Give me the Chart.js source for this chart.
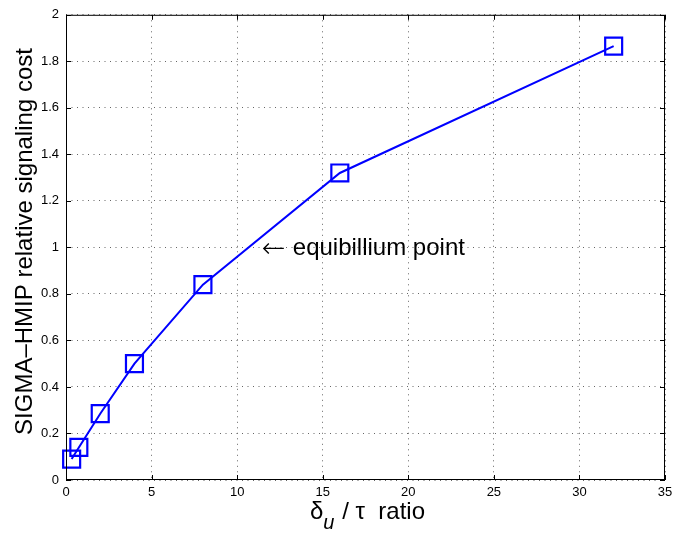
<!DOCTYPE html>
<html>
<head>
<meta charset="utf-8">
<script src="https://cdn.jsdelivr.net/npm/chart.js@4"></script>
<style>
  html, body { margin: 0; padding: 0; background: #fff; }
  #wrap { width: 694px; height: 533px; }
</style>
</head>
<body>
<div id="wrap"><canvas id="myChart" width="694" height="533"></canvas></div>
<script>
// data
const ratio = [0.33, 0.75, 2, 4, 8, 16, 32];
const cost = [0.09, 0.14, 0.285, 0.5, 0.84, 1.32, 1.865];
const xTicks = [0, 5, 10, 15, 20, 25, 30, 35];
const yTicks = [0, 0.2, 0.4, 0.6, 0.8, 1, 1.2, 1.4, 1.6, 1.8, 2];
const noteText = 'equibillium point';
const notePos = [11.5, 1.0];

const FONT = '"Liberation Sans", Arial, sans-serif';

// MATLAB-ish frame, inward ticks, titles and the annotation
const decor = {
  id: 'decor',
  afterDraw(chart) {
    const c = chart.ctx;
    const a = chart.chartArea;
    const xs = chart.scales.x, ys = chart.scales.y;
    c.save();
    c.strokeStyle = '#000';
    c.lineWidth = 1;
    c.strokeRect(a.left + 0.5, a.top + 0.5, a.right - a.left - 1, a.bottom - a.top - 1);
    c.beginPath();
    xTicks.forEach(v => {
      const px = Math.round(xs.getPixelForValue(v)) + 0.5;
      c.moveTo(px, a.bottom); c.lineTo(px, a.bottom - 5);
      c.moveTo(px, a.top); c.lineTo(px, a.top + 5);
    });
    yTicks.forEach(v => {
      const py = Math.round(ys.getPixelForValue(v)) + 0.5;
      c.moveTo(a.left, py); c.lineTo(a.left + 5, py);
      c.moveTo(a.right, py); c.lineTo(a.right - 5, py);
    });
    c.stroke();

    // annotation: arrow + text
    const nx = xs.getPixelForValue(notePos[0]);
    const ny = ys.getPixelForValue(notePos[1]) + 1;
    c.beginPath();
    c.moveTo(nx + 1, ny); c.lineTo(nx + 21, ny);
    c.moveTo(nx + 6, ny - 5); c.lineTo(nx + 1, ny); c.lineTo(nx + 6, ny + 5);
    c.lineWidth = 1.4;
    c.stroke();
    c.fillStyle = '#000';
    c.font = '24px ' + FONT;
    c.textAlign = 'left';
    c.textBaseline = 'middle';
    c.fillText(noteText, nx + 30, ny);

    // y title
    c.save();
    c.translate(32, 241.5);
    c.rotate(-Math.PI / 2);
    c.font = '24px ' + FONT;
    c.textAlign = 'center';
    c.textBaseline = 'alphabetic';
    c.fillText('SIGMA\u2013HMIP relative signaling cost', 0, 0);
    c.restore();

    // x title with subscript
    const big = '24px ' + FONT, small = 'italic 20px ' + FONT;
    const parts = [['\u03b4', big, 0], ['u', small, 10], [' / \u03c4  ratio', big, 0]];
    let x = 310;
    const base = 519;
    c.textAlign = 'left';
    c.textBaseline = 'alphabetic';
    parts.forEach(p => {
      c.font = p[1];
      c.fillText(p[0], x, base + p[2]);
      x += c.measureText(p[0]).width + (p[0] === 'u' ? 1 : 0);
    });
    c.restore();
  }
};

new Chart(document.getElementById('myChart'), {
  type: 'line',
  data: {
    datasets: [{
      data: ratio.map((r, i) => ({ x: r, y: cost[i] })),
      borderColor: '#0000ff',
      borderWidth: 2,
      pointStyle: 'rect',
      pointRadius: 12,
      pointBorderWidth: 2.2,
      pointBorderColor: '#0000ff',
      pointBackgroundColor: 'rgba(0,0,0,0)',
      tension: 0,
      clip: false
    }]
  },
  options: {
    responsive: false,
    animation: false,
    layout: { padding: { left: 0, top: 7, right: 29, bottom: 0 } },
    plugins: { legend: { display: false }, tooltip: { enabled: false } },
    scales: {
      x: {
        type: 'linear',
        min: 0, max: 35,
        afterBuildTicks: s => { s.ticks = xTicks.map(v => ({ value: v })); },
        afterFit: s => { s.height = 53; },
        grid: { color: '#666', lineWidth: 1, drawTicks: false },
        border: { display: false, dash: [1, 4.5] },
        ticks: { color: '#000', font: { family: FONT, size: 13 }, padding: 5, maxRotation: 0,
                 callback: v => String(v) }
      },
      y: {
        type: 'linear',
        min: 0, max: 2,
        afterBuildTicks: s => { s.ticks = yTicks.map(v => ({ value: v })); },
        afterFit: s => { s.width = 66; },
        grid: { color: '#666', lineWidth: 1, drawTicks: false },
        border: { display: false, dash: [1, 4.5] },
        ticks: { color: '#000', font: { family: FONT, size: 13 }, padding: 7,
                 callback: v => String(Math.round(v * 10) / 10) }
      }
    }
  },
  plugins: [decor]
});
</script>
</body>
</html>
